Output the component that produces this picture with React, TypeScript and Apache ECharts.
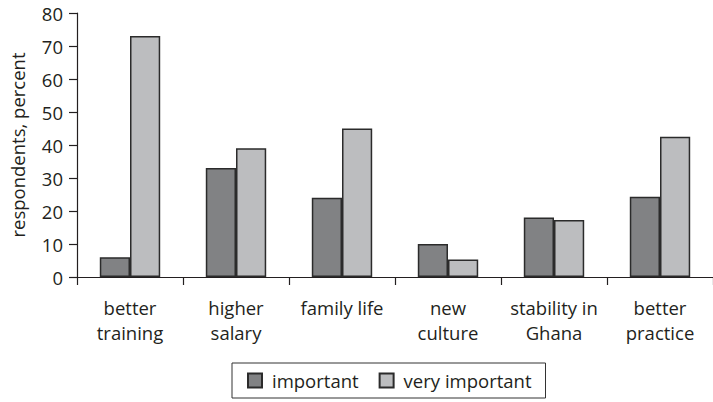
import React, { useEffect, useRef } from "react";
import * as echarts from "echarts";

const categories = ["better\ntraining", "higher\nsalary", "family life", "new\nculture", "stability in\nGhana", "better\npractice"];
const important = [6, 33, 24, 10, 18, 24.3];
const veryImportant = [73, 39, 45, 5.3, 17.3, 42.5];
const seriesNames = ["important", "very important"];
const yAxisName = "respondents, percent";

const FONT = "Open Sans";
const FS = 18.5;

export default function App() {
  const ref = useRef<HTMLDivElement>(null);
  useEffect(() => {
    const chart = echarts.init(ref.current!, null, { renderer: "svg" });
    chart.setOption({
      animation: false,
      backgroundColor: "#ffffff",
      textStyle: { fontFamily: FONT },
      grid: { left: 77, top: 13, right: 0, bottom: 125, containLabel: false },
      legend: {
        data: seriesNames.map((n) => ({ name: n, icon: "rect" })),
        left: 232,
        top: 363,
        padding: [5, 14, 5, 15],
        itemGap: 20,
        itemWidth: 14,
        itemHeight: 14,
        borderColor: "#333333",
        borderWidth: 1,
        borderRadius: 0,
        textStyle: { fontSize: FS, color: "#231f20", fontFamily: FONT, padding: [0, 0, 0, 5], lineHeight: 25 },
      },
      xAxis: {
        type: "category",
        data: categories,
        boundaryGap: true,
        axisLine: { lineStyle: { color: "#231f20", width: 1.2 } },
        axisTick: { show: true, length: 8, lineStyle: { color: "#231f20", width: 1.2 } },
        axisLabel: { fontSize: FS, color: "#231f20", margin: 18, lineHeight: 25, interval: 0, fontFamily: FONT },
        splitLine: { show: false },
      },
      yAxis: {
        type: "value",
        min: 0,
        max: 80,
        interval: 10,
        name: yAxisName,
        nameLocation: "middle",
        nameGap: 50,
        nameRotate: 90,
        nameTextStyle: { fontSize: FS, color: "#231f20", fontFamily: FONT },
        axisLine: { show: true, lineStyle: { color: "#231f20", width: 1.2 } },
        axisTick: { show: true, length: 8, lineStyle: { color: "#231f20", width: 1.2 } },
        axisLabel: { fontSize: FS, color: "#231f20", margin: 14, fontFamily: FONT },
        splitLine: { show: false },
      },
      series: [
        {
          name: seriesNames[0],
          type: "bar",
          data: important,
          barGap: "0%",
          barCategoryGap: "43%",
          itemStyle: { color: "#818284", borderColor: "#2b2b2b", borderWidth: 1.5 },
        },
        {
          name: seriesNames[1],
          type: "bar",
          data: veryImportant,
          barGap: "0%",
          barCategoryGap: "43%",
          itemStyle: { color: "#bcbdbf", borderColor: "#2b2b2b", borderWidth: 1.5 },
        },
      ],
    });
    return () => chart.dispose();
  }, []);
  return <div ref={ref} style={{ width: 713, height: 402, position: "absolute", left: 0, top: 0 }} />;
}
